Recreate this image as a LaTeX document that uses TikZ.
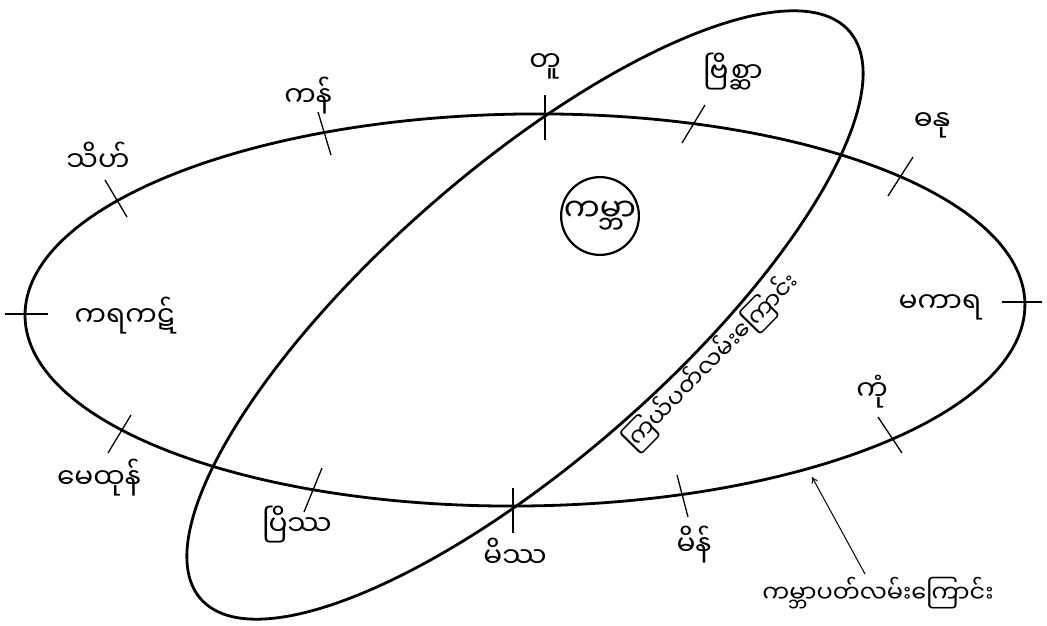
\documentclass[tikz,border=0pt]{standalone}
\usepackage{fontspec}
\newfontfamily\my[Script=Myanmar]{Noto Sans Myanmar UI}
\usetikzlibrary{arrows.meta}
\begin{document}
\begin{tikzpicture}[x=1pt,y=-1pt,
  orbit/.style={line width=2.8pt},
  tickln/.style={line width=1.3pt},
  lbl/.style={font=\my\fontsize{28}{32}\selectfont, inner sep=0pt},
  small/.style={font=\my\fontsize{24}{28}\selectfont, inner sep=0pt}]
\useasboundingbox (0,0) rectangle (1047,626);
\fill[white] (0,0) rectangle (1047,626);
% orbits
\coordinate (E) at (525,310);
\coordinate (T) at (525,315);
\draw[orbit, rotate around={0.7:(E)}] (E) ellipse [x radius=500pt, y radius=196pt];
\draw[orbit, rotate around={41.2:(T)}] (T) ellipse [x radius=431pt, y radius=145pt];
% earth
\node[circle, draw, line width=2.2pt, minimum size=76pt, inner sep=0pt,
      font=\my\fontsize{32}{36}\selectfont] (earth) at (600,216) {ကမ္ဘာ};
% tick marks
\coordinate (t1a) at (545,95);  \coordinate (t1b) at (545,140);
\coordinate (t2a) at (705,105); \coordinate (t2b) at (682,143);
\coordinate (t3a) at (913,157); \coordinate (t3b) at (888,196);
\coordinate (t4a) at (1002,302); \coordinate (t4b) at (1042,302);
\coordinate (t5a) at (878,417); \coordinate (t5b) at (902,453);
\coordinate (t6a) at (677,475); \coordinate (t6b) at (688,517);
\coordinate (t7a) at (513,488); \coordinate (t7b) at (513,533);
\coordinate (t8a) at (322,468); \coordinate (t8b) at (304,512);
\coordinate (t9a) at (131,415); \coordinate (t9b) at (108,453);
\coordinate (t10a) at (5,314); \coordinate (t10b) at (48,314);
\coordinate (t11a) at (105,180); \coordinate (t11b) at (127,217);
\coordinate (t12a) at (318,112); \coordinate (t12b) at (331,155);
\foreach \i in {1,...,12} \draw[tickln] (t\i a) -- (t\i b);
% labels
\node[lbl] (tu) at (545,66) {တူ};
\node[lbl] (bri) at (733,72) {ဗြိစ္ဆာ};
\node[lbl] (dha) at (932,125) {ဓနု};
\node[lbl] (maka) at (940,307) {မကာရ};
\node[lbl] (kum) at (872,392) {ကုံ};
\node[lbl] (min) at (694,545) {မိန်};
\node[lbl] (missa) at (515,553) {မိဿ};
\node[lbl] (prissa) at (297,525) {ပြိဿ};
\node[lbl] (methon) at (99,478) {မေထုန်};
\node[lbl] (karakat) at (125,316) {ကရကဋ်};
\node[lbl] (thi) at (98,157) {သိဟ်};
\node[lbl] (kan) at (308,96) {ကန်};
\node[small, rotate=45.5] (star) at (712,362) {ကြယ်ပတ်လမ်းကြောင်း};
\node[small] (earthorbit) at (878,593) {ကမ္ဘာပတ်လမ်းကြောင်း};
\coordinate (arrtip) at (812,477);
\coordinate (arrtail) at (865,574);
\draw[line width=1pt, -{To[length=6pt,width=7pt]}] (arrtail) -- (arrtip);
\end{tikzpicture}
\end{document}
